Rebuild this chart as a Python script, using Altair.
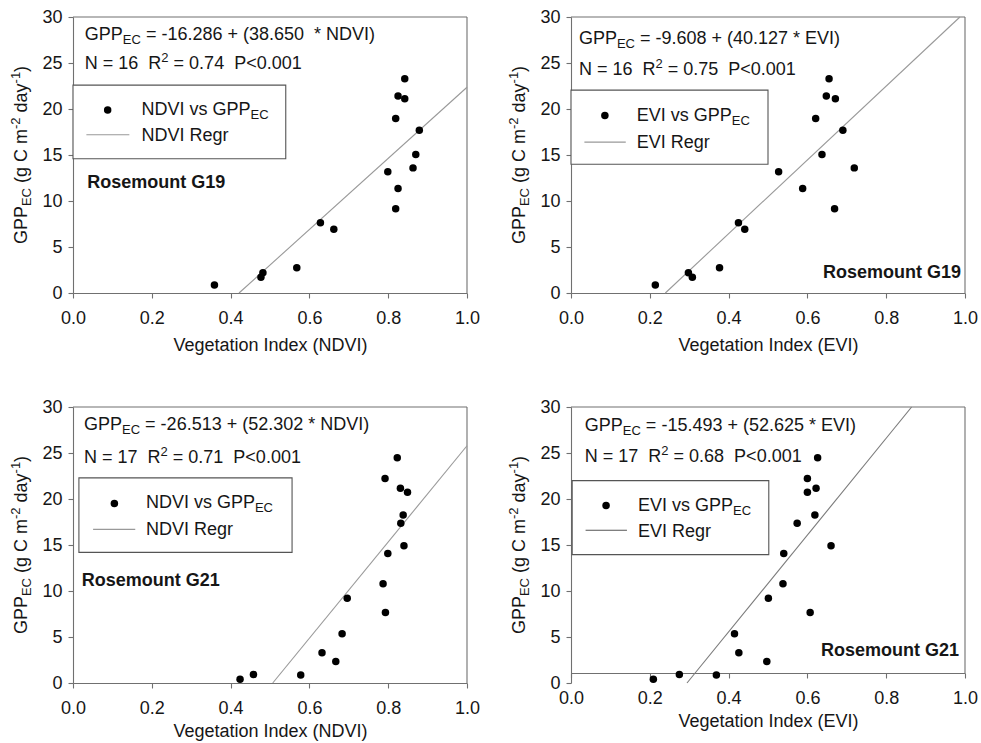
import altair as alt
import pandas as pd

# ----------------------------- data -----------------------------
g19_gpp = [0.88, 1.70, 2.20, 2.75, 7.64, 6.92, 13.18, 9.17, 11.37, 18.98, 21.42, 21.12, 23.30, 17.68, 15.06, 13.60]
g19_ndvi = [0.359, 0.477, 0.482, 0.568, 0.628, 0.662, 0.799, 0.819, 0.825, 0.819, 0.825, 0.842, 0.842, 0.879, 0.870, 0.863]
g19_evi = [0.214, 0.308, 0.298, 0.377, 0.425, 0.441, 0.527, 0.669, 0.588, 0.621, 0.648, 0.671, 0.655, 0.690, 0.637, 0.719]

g21_gpp = [0.42, 0.93, 0.86, 3.30, 2.33, 5.35, 9.20, 10.80, 7.66, 14.07, 22.23, 24.49, 21.18, 20.73, 18.27, 17.36, 14.91]
g21_ndvi = [0.424, 0.458, 0.578, 0.632, 0.667, 0.683, 0.696, 0.787, 0.793, 0.799, 0.792, 0.823, 0.831, 0.849, 0.838, 0.832, 0.840]
g21_evi = [0.209, 0.275, 0.369, 0.426, 0.497, 0.415, 0.501, 0.538, 0.607, 0.540, 0.600, 0.626, 0.622, 0.600, 0.619, 0.574, 0.660]

intercepts = [-16.286, -9.608, -26.513, -15.493]
slopes = [38.650, 40.127, 52.302, 52.625]
n_obs = [16, 16, 17, 17]
r2_txt = ["0.74", "0.75", "0.71", "0.68"]
intercept_txt = ["-16.286", "-9.608", "-26.513", "-15.493"]
slope_txt = ["38.650 ", "40.127", "52.302", "52.625"]
index_names = ["NDVI", "EVI", "NDVI", "EVI"]
sites = ["Rosemount G19", "Rosemount G19", "Rosemount G21", "Rosemount G21"]
x_ticks = [0.0, 0.2, 0.4, 0.6, 0.8, 1.0]
y_ticks = [0, 5, 10, 15, 20, 25, 30]

# ----------------------------- style -----------------------------
FONT = "Liberation Sans"
W, H = 394, 276
TXT = "#161616"
AX = "#707070"
FS = 18
SUB = 13

AW = {' ': 278, '\u00a0': 278, '(': 333, ')': 333, '*': 389, '+': 584, '-': 333, '.': 278,
      '<': 584, '=': 584, 'C': 722, 'D': 722, 'E': 667, 'G': 778, 'I': 278, 'N': 722,
      'P': 667, 'R': 722, 'V': 667, 'a': 556, 'd': 556, 'e': 556, 'g': 556, 'm': 833,
      'r': 333, 's': 500, 'v': 500, 'y': 500, 'o': 556, 'n': 556, 't': 278, 'i': 222}
for _c in "0123456789":
    AW[_c] = 556


def tw(s, size):
    return sum(AW.get(c, 556) for c in s) * size / 1000.0


def X(title, off, tpad):
    return alt.X("x:Q", scale=alt.Scale(domain=[0, 1], nice=False, zero=False),
                 axis=alt.Axis(values=x_ticks, format=".1f", title=title, labelPadding=11,
                               titlePadding=tpad, offset=off, labelFlush=False))


def Y():
    return alt.Y("y:Q", scale=alt.Scale(domain=[0, 30], nice=False, zero=False),
                 axis=alt.Axis(values=y_ticks, title=None, labelPadding=6))


def rich(parts, xe, ye, x=0.0, y=0.0, px=None, py=None, angle=None, anchor="left"):
    total = sum(tw(t, s) for t, s, dy in parts)
    off = 0.0 if anchor == "left" else -total / 2.0
    out = []
    for t, s, dy in parts:
        core = t.lstrip(" ")
        lead = t[: len(t) - len(core)]
        off += tw(lead, s)
        kw = dict(text=core.replace(" ", "\u00a0"), font=FONT, fontSize=s, color=TXT,
                  align="left", baseline="alphabetic", dx=round(off, 2), dy=dy)
        if angle is not None:
            kw["angle"] = angle
        m = alt.Chart(pd.DataFrame({"x": [x], "y": [y]})).mark_text(**kw)
        if px is not None:
            m = m.encode(x=alt.value(px), y=alt.value(py))
        else:
            m = m.encode(x=xe, y=ye)
        out.append(m)
        off += tw(core, s)
    return out


def panel(i, vi, gpp, lay, xoff=0, tpad=9, right_y2=H, regcolor="#999999", legline="#999999"):
    name = index_names[i]
    a, b = intercepts[i], slopes[i]
    xe, ye = X("Vegetation Index (%s)" % name, xoff, tpad), Y()
    layers = []
    # frame (top and right)
    layers.append(alt.Chart(pd.DataFrame({"x": [0]})).mark_rule(color=AX, strokeWidth=1.1).encode(
        x=alt.value(0), x2=alt.value(W), y=alt.value(0)))
    layers.append(alt.Chart(pd.DataFrame({"x": [0]})).mark_rule(color=AX, strokeWidth=1.1).encode(
        x=alt.value(W), y=alt.value(0), y2=alt.value(right_y2)))
    # legend box
    bx0, bx1, by0, by1 = lay["box"]
    layers.append(alt.Chart(pd.DataFrame({"x": [bx0], "x2": [bx1], "y": [by0], "y2": [by1]})).mark_rect(
        fill="white", stroke="#555555", strokeWidth=1.1).encode(x=xe, x2="x2:Q", y=ye, y2="y2:Q"))
    # regression line
    x0 = max(0.0, -a / b)
    x1 = min(1.0, (30 - a) / b)
    reg = pd.DataFrame({"x": [x0, x1], "y": [a + b * x0, a + b * x1]})
    layers.append(alt.Chart(reg).mark_line(color=regcolor, strokeWidth=1.1).encode(x=xe, y=ye))
    # points
    pts = pd.DataFrame({"x": vi, "y": gpp})
    layers.append(alt.Chart(pts).mark_circle(color="black", opacity=1, size=56).encode(x=xe, y=ye))
    # legend symbols
    px_, py_ = lay["pt"]
    layers.append(alt.Chart(pd.DataFrame({"x": [px_], "y": [py_]})).mark_circle(
        color="black", opacity=1, size=56).encode(x=xe, y=ye))
    lx0, lx1, ly = lay["line"]
    layers.append(alt.Chart(pd.DataFrame({"x": [lx0], "x2": [lx1], "y": [ly]})).mark_rule(
        color=legline, strokeWidth=1.1).encode(x=xe, x2="x2:Q", y=ye))
    # legend labels
    t1x, t1y = lay["lab1"]
    layers += rich([(name + " vs GPP", FS, 0), ("EC", SUB, 4)], xe, ye, t1x, t1y)
    t2x, t2y = lay["lab2"]
    layers += rich([(name + " Regr", FS, 0)], xe, ye, t2x, t2y)
    # equation text
    ex, ey1, ey2 = lay["eq"]
    layers += rich([("GPP", FS, 0), ("EC", SUB, 4),
                    (" = %s + (%s * %s)" % (intercept_txt[i], slope_txt[i], name), FS, 0)],
                   xe, ye, ex, ey1)
    layers += rich([("N = %d  R" % n_obs[i], FS, 0), ("2", SUB, -7),
                    (" = %s  P<0.001" % r2_txt[i], FS, 0)], xe, ye, ex, ey2)
    # site label
    sal, sx, sy = lay["site"]
    layers.append(alt.Chart(pd.DataFrame({"x": [sx], "y": [sy]})).mark_text(
        text=sites[i], font=FONT, fontSize=FS, fontWeight="bold", color=TXT, align=sal,
        baseline="alphabetic").encode(x=xe, y=ye))
    # y axis title
    layers += rich([("GPP", 18, 0), ("EC", 13, 4), (" (g C m", 18, 0), ("-2", 13, -7),
                    (" day", 18, 0), ("-1", 13, -7), (")", 18, 0)],
                   xe, ye, px=-46, py=H / 2.0, angle=270, anchor="center")
    return alt.layer(*layers).properties(width=W, height=H)


lay1 = dict(box=(0.0, 0.54, 14.6, 22.6), pt=(0.088, 19.9), lab1=(0.174, 19.4),
            line=(0.034, 0.143, 17.2), lab2=(0.174, 16.5), eq=(0.030, 27.55, 24.3),
            site=("left", 0.036, 11.4))
lay2 = dict(box=(0.0, 0.50, 14.0, 22.05), pt=(0.086, 19.3), lab1=(0.167, 18.7),
            line=(0.034, 0.139, 16.4), lab2=(0.167, 15.8), eq=(0.020, 27.1, 23.7),
            site=("right", 0.99, 1.63))
lay3 = dict(box=(0.015, 0.556, 14.2, 22.3), pt=(0.105, 19.5), lab1=(0.185, 19.0),
            line=(0.051, 0.158, 16.7), lab2=(0.185, 16.1), eq=(0.028, 27.45, 23.9),
            site=("left", 0.022, 10.5))
lay4 = dict(box=(0.003, 0.502, 13.95, 22.0), pt=(0.089, 19.3), lab1=(0.17, 18.7),
            line=(0.037, 0.142, 16.6), lab2=(0.17, 15.9), eq=(0.035, 27.4, 24.0),
            site=("right", 0.985, 2.9))

p1 = panel(0, g19_ndvi, g19_gpp, lay1)
p2 = panel(1, g19_evi, g19_gpp, lay2)
p3 = panel(2, g21_ndvi, g21_gpp, lay3, tpad=5)
p4 = panel(3, g21_evi, g21_gpp, lay4, xoff=-10, tpad=5, right_y2=H - 10,
           regcolor="#7a7a7a", legline="#555555")

chart = alt.concat(p1, p2, p3, p4, columns=2, spacing={"row": 114, "column": 104},
                   bounds="flush").properties(
    padding={"left": 10, "top": 8, "right": 2, "bottom": 2}
).configure_view(stroke=None).configure_axis(
    labelFont=FONT, titleFont=FONT, labelFontSize=18, titleFontSize=18,
    labelColor=TXT, titleColor=TXT, titleFontWeight="normal",
    domainColor=AX, tickColor=AX, tickSize=5, grid=False, domainWidth=1.1, tickWidth=1.1
)

chart.save("out.html", embed_options={"renderer": "svg", "actions": False})
